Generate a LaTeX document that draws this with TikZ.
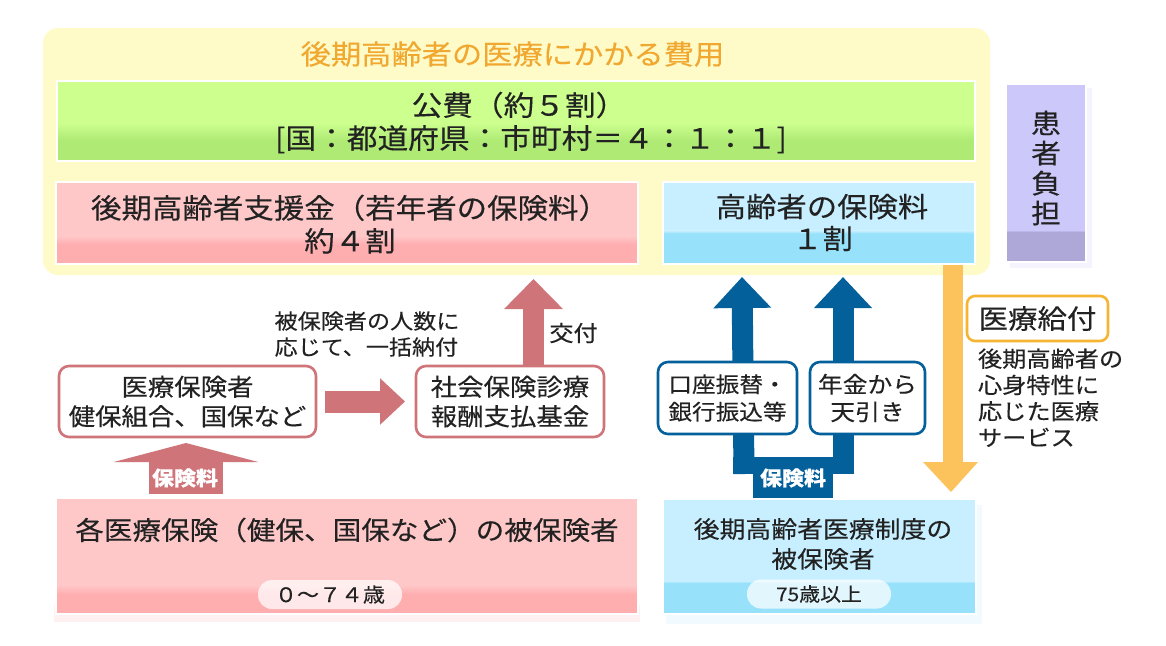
\documentclass[tikz,border=0pt]{standalone}
\usepackage{fontspec}
\setmainfont[FakeStretch=1.1,FakeBold=0.25]{Noto Sans CJK JP}
\usetikzlibrary{arrows.meta,backgrounds}
\definecolor{cYel}{HTML}{FFFBC8}
\definecolor{cGrnA}{HTML}{CCFF8E}
\definecolor{cGrnB}{HTML}{AEEA74}
\definecolor{cPnkA}{HTML}{FFC8C8}
\definecolor{cPnkB}{HTML}{FFAEB0}
\definecolor{cBluA}{HTML}{C8EFFF}
\definecolor{cBluB}{HTML}{97E2FA}
\definecolor{cPurA}{HTML}{CCC8FA}
\definecolor{cPurB}{HTML}{AEA8D8}
\definecolor{cTitle}{HTML}{F0A830}
\definecolor{cPArrow}{HTML}{CF7478}
\definecolor{cBArrow}{HTML}{03609B}
\definecolor{cYArrow}{HTML}{FCC35C}
\definecolor{cOBord}{HTML}{F5B432}
\definecolor{cInk}{HTML}{222222}
\newcommand{\fs}[2]{\fontsize{#1}{#2}\selectfont}
\tikzset{
  x=1pt,y=-1pt,
  every node/.style={inner sep=0pt,outer sep=0pt,text=cInk,align=center},
  panel/.style n args={4}{draw=white,line width=2pt,rectangle,
    path picture={
      \fill[#1] (path picture bounding box.north west) rectangle (path picture bounding box.south east);
      \fill[#2] ([yshift=#3]path picture bounding box.south west) rectangle (path picture bounding box.south east);
      \shade[top color=#1,bottom color=#2] ([yshift=#3+#4]path picture bounding box.south west) rectangle ([yshift=#3]path picture bounding box.south east);
    }},
  flowbox/.style={rectangle,rounded corners=10pt,fill=white,line width=2.6pt},
  pill/.style={rectangle,rounded corners=14pt,minimum height=29pt,minimum width=144pt},
  pinkflow/.style={draw=cPArrow,line width=#1},
  blueflow/.style={draw=cBArrow,line width=21pt},
  tag/.style={text=white,font=\bfseries\fs{20}{24}},
}
\begin{document}
\begin{tikzpicture}
\useasboundingbox (0,0) rectangle (1166,645);
\begin{scope}[on background layer]
\fill[white] (0,0) rectangle (1166,645);
\end{scope}
% large panel
\node[rectangle,rounded corners=15pt,fill=cYel,minimum width=947pt,minimum height=247pt] (panel) at (516.5,151.5) {};
\node[text=cTitle,font=\fs{27.5}{32}] (title) at (512.5,54) {後期高齢者の医療にかかる費用};
% soft shadows
\fill[cPurA!22] (1010,88) rectangle (1092,268);
\fill[cPnkA!25] (54,605) rectangle (640,622);
\fill[cBluA!28] (666,505) rectangle (982,624);
% panels
\node[panel={cGrnA}{cGrnB}{20pt}{18pt},minimum width=918pt,minimum height=80pt,font=\fs{27.9}{33}] (pub) at (516,121)
  {\rule{0pt}{27pt}\hspace*{6pt}公費（約５割）\\\hspace*{30pt}{[}国：都道府県：市町村＝４：１：１{]}};
\node[panel={cPnkA}{cPnkB}{19pt}{9pt},minimum width=582pt,minimum height=82pt,font=\fs{27.7}{33}] (sup) at (347,222.5)
  {\rule{0pt}{27pt}\hspace*{6pt}後期高齢者支援金（若年者の保険料）\\\hspace*{6pt}約４割};
\node[panel={cBluA}{cBluB}{30pt}{3pt},minimum width=312pt,minimum height=82pt,font=\fs{27.6}{32}] (old) at (819,222.5)
  {\hspace*{6pt}高齢者の保険料\\\hspace*{7pt}１割};
\node[panel={cPurA}{cPurB}{30pt}{2pt},minimum width=80pt,minimum height=178pt,font=\fs{27}{30}] (pat) at (1046,173)
  {患\\者\\負\\担\rule[-12pt]{0pt}{12pt}};
\node[panel={cPnkA}{cPnkB}{20pt}{9pt},minimum width=582pt,minimum height=116pt] (insA) at (347,556) {};
\node[panel={cBluA}{cBluB}{31pt}{2pt},minimum width=313pt,minimum height=115pt] (insB) at (819.5,556.5) {};
\node[font=\fs{26}{32}] (insAt) at (347,530) {各医療保険（健保、国保など）の被保険者};
\node[font=\fs{23.5}{30}] (insBt) at (823,544) {後期高齢者医療制度の\\被保険者};
\node[pill,fill=white,fill opacity=.72,text opacity=1,font=\fs{20}{24}] (ageA) at (330,594.5) {０～７４歳};
\node[pill,fill=white,fill opacity=.72,text opacity=1,font=\fs{19}{24}] (ageB) at (819,594) {75歳以上};
% flow boxes
\node[flowbox,draw=cPArrow,minimum width=257pt,minimum height=71pt,font=\fs{24}{29.5}] (hok) at (187.5,401.5)
  {医療保険者\\健保組合、国保など};
\node[flowbox,draw=cPArrow,minimum width=188pt,minimum height=71pt,font=\fs{24}{29.5}] (fund) at (510,401.5)
  {社会保険診療\\報酬支払基金};
\node[flowbox,draw=cBArrow,minimum width=139pt,minimum height=72pt,font=\fs{21.5}{27.5}] (acct) at (727.5,398)
  {\raisebox{1.5pt}{口座振替・}\\\raisebox{1.5pt}{銀行振込等}};
\node[flowbox,draw=cBArrow,minimum width=115pt,minimum height=72pt,font=\fs{22.5}{27.5}] (pens) at (867.5,398)
  {\raisebox{1.5pt}{年金から}\\\raisebox{1.5pt}{天引き}};
\node[rectangle,rounded corners=8pt,draw=cOBord,line width=2.6pt,fill=white,minimum width=141pt,minimum height=45pt,font=\fs{26.8}{32}] (ben) at (1037.5,318.5) {医療給付};
% free ends
\coordinate (tipSup) at (533.5,279);
\coordinate (tipHok) at (186,443);
\coordinate (baseHok) at (186,494);
\coordinate (startFund) at (533.5,366);
\coordinate (tipA) at (742,277);
\coordinate (tipP) at (843,277);
\coordinate (forkA) at (744,474);
\coordinate (forkP) at (843,474);
\coordinate (startY) at (953,265);
\coordinate (tipY) at (951,492);
\coordinate (startYb) at (953,462);
% arrows
\draw[pinkflow=22pt,-{Triangle[length=25pt,width=45pt]}] ([xshift=9pt]hok.east) -- ([xshift=-11pt]fund.west);
\begin{scope}[on background layer]
\draw[pinkflow=21pt,-{Triangle[length=30pt,width=57pt]}] (startFund) -- (tipSup);
\draw[blueflow,-{Triangle[length=31pt,width=56pt]}] (forkA) -- (tipA);
\draw[blueflow,-{Triangle[length=31pt,width=56pt]}] (forkP) -- (tipP);
\fill[cBArrow] (733,457) rectangle (853,474);
\fill[cBArrow] (753,457) rectangle (833,499);
\end{scope}
\draw[draw=cPArrow,line width=74pt,-{Triangle[length=19pt,width=144pt]}] (baseHok) -- (tipHok);
\draw[draw=cYArrow,line width=20pt] (startY) -- (startYb);
\fill[cYArrow] (923,462) -- (978,462) -- (tipY) -- cycle;
% labels
\node[tag] (tagA) at (185,478) {保険料};
\node[tag] (tagB) at (793,478) {保険料};
\node[font=\fs{21}{26},align=left] (note) at (367,334) {被保険者の人数に\\応じて、一括納付};
\node[font=\fs{22}{26}] (deliv) at (573.5,333) {交付};
\node[font=\fs{22}{26.3},align=left,anchor=north west] (svc) at (978,348.5) {後期高齢者の\\心身特性に\\応じた医療\\サービス};
\end{tikzpicture}
\end{document}
